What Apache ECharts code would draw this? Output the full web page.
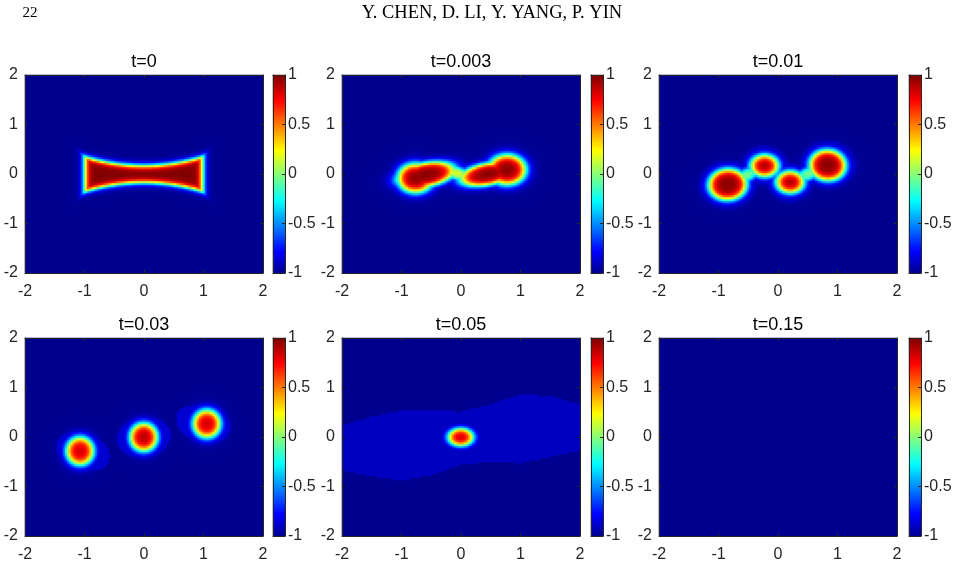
<!DOCTYPE html>
<html>
<head>
<meta charset="utf-8">
<script src="https://cdn.jsdelivr.net/npm/echarts@6/dist/echarts.min.js"></script>
<style>
  html, body { margin: 0; background: #fff; }
  #chart { width: 957px; height: 587px; }
</style>
</head>
<body>
<div id="chart"></div>
<script>
// panel titles and tick labels
const panelTitles = ['t=0', 't=0.003', 't=0.01', 't=0.03', 't=0.05', 't=0.15'];
const axisTicks = [-2, -1, 0, 1, 2];
const colorbarTicks = [-1, -0.5, 0, 0.5, 1];

// t=0: concave bar, half height at x=0 and at the ends, half length, interface width
const bowtieHeights = [0.17, 0.35];
const bowtieLength = 0.99;
const bowtieEdge = 0.07;

// blobs: [cx, cy, a, b, angleDeg, peak, edgeWidth]
const blobsT0003 = [
  [-0.58, -0.01, 0.47, 0.23, 14, 0.98, 0.11],
  [-0.76, -0.08, 0.28, 0.28, 0, 0.98, 0.11],
  [0.45, 0.0, 0.45, 0.21, 14, 0.98, 0.11],
  [0.78, 0.09, 0.30, 0.29, 0, 0.98, 0.11],
  [-0.07, 0.02, 0.25, 0.12, -20, 0.2, 0.09]
];
const blobsT001 = [
  [-0.84, -0.21, 0.31, 0.30, 35, 0.98, 0.1],
  [-0.22, 0.17, 0.22, 0.21, 0, 0.93, 0.1],
  [0.21, -0.16, 0.22, 0.21, 0, 0.93, 0.1],
  [0.84, 0.18, 0.29, 0.30, 20, 0.98, 0.1],
  [-0.52, -0.02, 0.23, 0.12, 35, 0.0, 0.09],
  [0.52, 0.01, 0.23, 0.12, 30, 0.0, 0.09]
];
const blobsT003 = [
  [-1.07, -0.28, 0.22, 0.27, 0, 0.85, 0.1],
  [0.0, 0.0, 0.22, 0.27, 0, 0.9, 0.1],
  [1.06, 0.27, 0.22, 0.27, 0, 0.85, 0.1]
];
const blobsT005 = [
  [0.0, 0.0, 0.20, 0.17, 0, 0.85, 0.085]
];

// faint halos: [cx, cy, a, b, angleDeg, level]
const halosT001 = [
  [-0.84, -0.21, 0.48, 0.49, 0, -0.9],
  [-0.23, 0.18, 0.36, 0.40, 0, -0.9],
  [0.20, -0.17, 0.36, 0.40, 0, -0.9],
  [0.85, 0.20, 0.47, 0.48, 0, -0.9]
];
const halosT003 = [
  [-1.02, -0.29, 0.48, 0.36, -30, -0.87],
  [0.0, 0.0, 0.46, 0.40, 20, -0.87],
  [1.0, 0.27, 0.48, 0.36, -25, -0.87]
];

// t=0.05 wide band
const bandX = [-2, -1.5, -1, -0.5, 0, 0.5, 1, 1.5, 2];
const bandTop = [0.24, 0.41, 0.54, 0.54, 0.52, 0.66, 0.86, 0.84, 0.66];
const bandBottom = [-0.67, -0.79, -0.88, -0.77, -0.56, -0.50, -0.53, -0.40, -0.27];
const bandLevel = -0.9;

const panels = [
  { bowtie: true },
  { blobs: blobsT0003 },
  { blobs: blobsT001, halos: halosT001 },
  { blobs: blobsT003, halos: halosT003 },
  { blobs: blobsT005, band: true },
  {}
];

// 2px cells: 238 x 198 plot
const NX = 119, NY = 99, CB_STEPS = 99;

function rho(x, y, e) {
  const t = e[4] * Math.PI / 180, c = Math.cos(t), s = Math.sin(t);
  const dx = x - e[0], dy = y - e[1];
  const u = dx * c + dy * s, v = -dx * s + dy * c;
  return Math.sqrt((u / e[2]) ** 2 + (v / e[3]) ** 2);
}

function lerpAt(xs, ys, x) {
  for (let i = 0; i < xs.length - 1; i++) {
    if (x <= xs[i + 1]) {
      const f = (x - xs[i]) / (xs[i + 1] - xs[i]);
      return ys[i] + f * (ys[i + 1] - ys[i]);
    }
  }
  return ys[ys.length - 1];
}

function fieldAt(p, x, y) {
  let v = -1;
  if (p.bowtie) {
    const h = bowtieHeights[0] + (bowtieHeights[1] - bowtieHeights[0]) * (x / bowtieLength) ** 2;
    const d = Math.min(h - Math.abs(y), bowtieLength - Math.abs(x));
    v = Math.max(v, Math.tanh(d / bowtieEdge));
  }
  if (p.band && y < lerpAt(bandX, bandTop, x) && y > lerpAt(bandX, bandBottom, x)) {
    v = Math.max(v, bandLevel);
  }
  (p.halos || []).forEach(h => { if (rho(x, y, h) < 1) v = Math.max(v, h[5]); });
  (p.blobs || []).forEach(b => {
    const d = (1 - rho(x, y, b)) * Math.sqrt(b[2] * b[3]);
    v = Math.max(v, -1 + (b[5] + 1) * 0.5 * (1 + Math.tanh(d / b[6])));
  });
  return v;
}

function panelData(p) {
  const out = [];
  for (let i = 0; i < NX; i++) {
    const x = -2 + (i + 0.5) * 4 / NX;
    for (let j = 0; j < NY; j++) {
      const y = -2 + (j + 0.5) * 4 / NY;
      out.push([i, j, +fieldAt(p, x, y).toFixed(3)]);
    }
  }
  return out;
}

// MATLAB jet colormap
function jet(u) {
  const stops = [[0, 0, 0, 0.5625], [7 / 63, 0, 0, 1], [23 / 63, 0, 1, 1],
                 [39 / 63, 1, 1, 0], [55 / 63, 1, 0, 0], [1, 0.5, 0, 0]];
  for (let i = 0; i < stops.length - 1; i++) {
    const a = stops[i], b = stops[i + 1];
    if (u <= b[0]) {
      const f = (u - a[0]) / (b[0] - a[0]);
      const c = [1, 2, 3].map(k => Math.round(255 * (a[k] + f * (b[k] - a[k]))));
      return 'rgb(' + c.join(',') + ')';
    }
  }
  return 'rgb(128,0,0)';
}
const jetColors = Array.from({ length: 64 }, (_, k) => jet(k / 63));

const plotLeft = [25, 342, 659];
const cbLeft = [273, 591, 909];
const rowTop = [75, 338];
const plotW = 238, plotH = 198, cbW = 12;
const AXIS_COLOR = '#262626';
const FONT = 'Liberation Sans';

function valueAxis(gridIndex, position, min, max, interval, labels, ticks, margin) {
  return {
    type: 'value', gridIndex, position, min, max, interval, z: 5,
    axisLine: { show: true, onZero: false, lineStyle: { color: AXIS_COLOR, width: 1 } },
    axisTick: { show: ticks, inside: true, length: 3, lineStyle: { color: AXIS_COLOR } },
    axisLabel: { show: labels, color: AXIS_COLOR, fontSize: 16, fontFamily: FONT, margin },
    splitLine: { show: false }
  };
}

const grid = [], xAxis = [], yAxis = [], series = [], graphic = [];
const xCats = Array.from({ length: NX }, (_, i) => i);
const yCats = Array.from({ length: NY }, (_, j) => j);
const cbCats = Array.from({ length: CB_STEPS }, (_, k) => k);

panels.forEach((p, n) => {
  const col = n % 3, row = Math.floor(n / 3);
  const g = grid.length;
  grid.push({ left: plotLeft[col], top: rowTop[row], width: plotW, height: plotH });
  const gc = grid.length;
  grid.push({ left: cbLeft[col], top: rowTop[row], width: cbW, height: plotH });

  // field
  const xi = xAxis.length;
  xAxis.push({ type: 'category', gridIndex: g, data: xCats, show: false });
  xAxis.push(valueAxis(g, 'bottom', axisTicks[0], axisTicks[4], 1, true, true, 11));
  xAxis.push(valueAxis(g, 'top', axisTicks[0], axisTicks[4], 1, false, true, 0));
  const yi = yAxis.length;
  yAxis.push({ type: 'category', gridIndex: g, data: yCats, show: false });
  yAxis.push(valueAxis(g, 'left', axisTicks[0], axisTicks[4], 1, true, true, 7));
  yAxis.push(valueAxis(g, 'right', axisTicks[0], axisTicks[4], 1, false, true, 0));
  series.push({
    type: 'heatmap', xAxisIndex: xi, yAxisIndex: yi, data: panelData(p),
    progressive: 0, itemStyle: { borderWidth: 0 }, emphasis: { disabled: true }
  });

  // colorbar
  const cxi = xAxis.length;
  xAxis.push({ type: 'category', gridIndex: gc, data: ['c'], show: false });
  xAxis.push(valueAxis(gc, 'bottom', 0, 1, 1, false, false, 0));
  xAxis.push(valueAxis(gc, 'top', 0, 1, 1, false, false, 0));
  const cyi = yAxis.length;
  yAxis.push({ type: 'category', gridIndex: gc, data: cbCats, show: false });
  yAxis.push(valueAxis(gc, 'right', colorbarTicks[0], colorbarTicks[4], 0.5, true, true, 3));
  yAxis.push(valueAxis(gc, 'left', colorbarTicks[0], colorbarTicks[4], 0.5, false, false, 0));
  series.push({
    type: 'heatmap', xAxisIndex: cxi, yAxisIndex: cyi,
    data: cbCats.map(k => [0, k, -1 + 2 * (k + 0.5) / CB_STEPS]),
    progressive: 0, itemStyle: { borderWidth: 0 }, emphasis: { disabled: true }
  });

  graphic.push({
    type: 'text', x: plotLeft[col] + plotW / 2, y: rowTop[row] - 13,
    style: { text: panelTitles[n], fontSize: 18, fontFamily: FONT, fill: '#000',
             align: 'center', verticalAlign: 'middle' }
  });
});

graphic.push({
  type: 'text', x: 30, y: 13,
  style: { text: '22', fontSize: 15, fontFamily: 'Liberation Serif', fill: '#000',
           align: 'center', verticalAlign: 'middle' }
});
graphic.push({
  type: 'text', x: 492, y: 13,
  style: { text: 'Y. CHEN, D. LI, Y. YANG, P. YIN', fontSize: 18.5, fontFamily: 'Liberation Serif',
           fill: '#000', align: 'center', verticalAlign: 'middle' }
});

const chart = echarts.init(document.getElementById('chart'));
chart.setOption({
  animation: false,
  backgroundColor: '#fff',
  grid, xAxis, yAxis, series, graphic,
  visualMap: {
    type: 'continuous', show: false, min: -1, max: 1, dimension: 2,
    seriesIndex: series.map((_, i) => i),
    inRange: { color: jetColors }
  }
});
</script>
</body>
</html>
